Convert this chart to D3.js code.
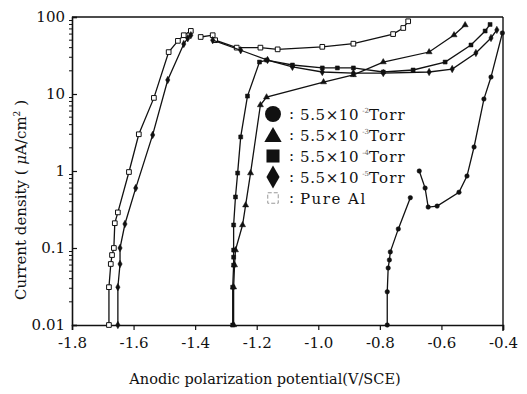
<!DOCTYPE html>
<html>
<head>
<meta charset="utf-8">
<script src="https://cdn.jsdelivr.net/npm/d3@7"></script>
<style>
  body { margin: 0; background: #fff; }
  text { font-family: "DejaVu Serif", "Liberation Serif", serif; fill: #111; }
</style>
</head>
<body>
<div id="chart"></div>
<script>
// axis ticks
var xTickValues = [-1.8, -1.6, -1.4, -1.2, -1.0, -0.8, -0.6, -0.4];
var xTickLabels = ["-1.8", "-1.6", "-1.4", "-1.2", "-1.0", "-0.8", "-0.6", "-0.4"];
var yTickValues = [0.01, 0.1, 1, 10, 100];
var yTickLabels = ["0.01", "0.1", "1", "10", "100"];

// series: [potential (V/SCE), current density (uA/cm2)], null = break in line
var pureAl = [
  [-1.680, 0.010], [-1.680, 0.031], [-1.674, 0.062], [-1.670, 0.081], [-1.664, 0.100],
  [-1.661, 0.21], [-1.651, 0.29], [-1.615, 0.97], [-1.583, 3.0], [-1.534, 8.9],
  [-1.486, 35], [-1.456, 49], [-1.437, 58], [-1.414, 66],
  null,
  [-1.382, 55], [-1.343, 58], [-1.335, 50], [-1.265, 40], [-1.188, 40], [-1.132, 38],
  [-0.987, 41], [-0.886, 45], [-0.757, 60], [-0.724, 72], [-0.708, 88]
];
var seriesDiamond = [
  [-1.651, 0.010], [-1.651, 0.031], [-1.644, 0.062], [-1.644, 0.100], [-1.628, 0.205],
  [-1.593, 0.60], [-1.538, 2.94], [-1.489, 15.2], [-1.437, 44.6], [-1.424, 53], [-1.414, 58],
  null,
  [-1.343, 50], [-1.252, 37], [-1.165, 27.6], [-1.084, 22.5], [-0.987, 19.3], [-0.886, 18.7],
  [-0.789, 18.7], [-0.640, 19.3], [-0.565, 21.1], [-0.488, 34.1], [-0.439, 53.4], [-0.420, 68]
];
var seriesSquare = [
  [-1.278, 0.010], [-1.278, 0.031], [-1.275, 0.060], [-1.275, 0.076], [-1.275, 0.094],
  [-1.275, 0.199], [-1.269, 0.46], [-1.262, 0.94], [-1.252, 2.77], [-1.230, 9.4],
  [-1.191, 26], [-1.168, 27.6], [-1.084, 23.8], [-0.987, 21.8], [-0.938, 21.8], [-0.886, 21.8],
  [-0.789, 19.3], [-0.692, 20.5], [-0.588, 26], [-0.504, 43.3], [-0.458, 65.8], [-0.442, 80]
];
var seriesTriangle = [
  [-1.275, 0.010], [-1.275, 0.031], [-1.272, 0.060], [-1.269, 0.094], [-1.246, 0.199],
  [-1.236, 0.36], [-1.220, 0.94], [-1.188, 7.2], [-1.168, 9.1], [-0.983, 14.3],
  [-0.886, 17.7], [-0.789, 26], [-0.640, 35.1], [-0.559, 58.3], [-0.523, 78.7]
];
var seriesCircle = [
  [-0.776, 0.010], [-0.776, 0.027], [-0.773, 0.055], [-0.769, 0.070], [-0.766, 0.089],
  [-0.740, 0.177], [-0.701, 0.45],
  null,
  [-0.672, 1.0], [-0.653, 0.60], [-0.643, 0.34], [-0.614, 0.35], [-0.543, 0.53],
  [-0.517, 0.86], [-0.494, 2.05], [-0.462, 8.6], [-0.439, 16.6], [-0.402, 62]
];

var legendLabels = ["5.5×10", "5.5×10", "5.5×10", "5.5×10", "Pure Al"];
var legendExponents = ["-2", "-3", "-4", "-5", null];

var width = 527, height = 394;
var margin = { top: 17, right: 24, bottom: 69, left: 72 };
var w = width - margin.left - margin.right,
    h = height - margin.top - margin.bottom;

var svg = d3.select("#chart").append("svg")
    .attr("width", width)
    .attr("height", height);

var g = svg.append("g")
    .attr("transform", "translate(" + margin.left + "," + margin.top + ")");

// scales
var x = d3.scaleLinear().domain([-1.8, -0.4]).range([0, w]);
var y = d3.scaleLog().domain([0.01, 100]).range([h, 0]);

// frame (top and right)
g.append("line").attr("x1", 0).attr("x2", w).attr("y1", 0).attr("y2", 0)
    .attr("stroke", "#111").attr("stroke-width", 1.6);
g.append("line").attr("x1", w).attr("x2", w).attr("y1", 0).attr("y2", h + 6)
    .attr("stroke", "#111").attr("stroke-width", 1.4);

// x axis
var xAxis = d3.axisBottom(x)
    .tickValues(xTickValues)
    .tickSize(5)
    .tickFormat(function(d, i) { return xTickLabels[i]; });

var gx = g.append("g")
    .attr("transform", "translate(0," + h + ")")
    .call(xAxis);
gx.select(".domain").attr("stroke", "#111").attr("stroke-width", 1.6);
gx.selectAll(".tick line").attr("stroke", "#111").attr("stroke-width", 1.2);
gx.selectAll(".tick text")
    .attr("y", 12)
    .style("font-family", "DejaVu Serif")
    .style("font-size", "15px")
    .attr("fill", "#111");

// y axis, major ticks inside
var yAxis = d3.axisLeft(y)
    .tickValues(yTickValues)
    .tickSize(-5)
    .tickPadding(7)
    .tickFormat(function(d, i) { return yTickLabels[i]; });

var gy = g.append("g").call(yAxis);
gy.select(".domain").attr("stroke", "#111").attr("stroke-width", 1.6);
gy.selectAll(".tick line").attr("stroke", "#111").attr("stroke-width", 1.2);
gy.selectAll(".tick text")
    .attr("x", -7)
    .style("font-family", "DejaVu Serif")
    .style("font-size", "15px")
    .attr("fill", "#111");

// minor log ticks on y axis
var minorTicks = [];
[0.01, 0.1, 1, 10].forEach(function(dec) {
  for (var k = 2; k <= 9; k++) minorTicks.push(dec * k);
});
g.append("g").selectAll("line")
    .data(minorTicks)
    .enter().append("line")
    .attr("x1", -3).attr("x2", 0)
    .attr("y1", function(d) { return y(d); })
    .attr("y2", function(d) { return y(d); })
    .attr("stroke", "#111").attr("stroke-width", 1);

// axis titles
svg.append("text")
    .attr("x", 265)
    .attr("y", 384)
    .attr("text-anchor", "middle")
    .style("font-size", "14.5px")
    .text("Anodic polarization potential(V/SCE)");

var yTitle = svg.append("text")
    .attr("transform", "translate(26,200) rotate(-90)")
    .attr("text-anchor", "middle")
    .style("font-size", "15px");
yTitle.append("tspan").text("Current density ( ");
yTitle.append("tspan").style("font-style", "italic").text("μ");
yTitle.append("tspan").text("A/cm");
yTitle.append("tspan").attr("dy", -6).style("font-size", "9px").text("2");
yTitle.append("tspan").attr("dy", 6).text(" )");

// lines
var line = d3.line()
    .defined(function(d) { return d != null; })
    .x(function(d) { return x(d[0]); })
    .y(function(d) { return y(d[1]); });

var allSeries = [
  { data: pureAl, symbol: d3.symbolSquare, open: true },
  { data: seriesDiamond, symbol: d3.symbolDiamond, open: false },
  { data: seriesSquare, symbol: d3.symbolSquare, open: false },
  { data: seriesTriangle, symbol: d3.symbolTriangle, open: false },
  { data: seriesCircle, symbol: d3.symbolCircle, open: false }
];

allSeries.forEach(function(s) {
  g.append("path")
      .datum(s.data)
      .attr("d", line)
      .attr("fill", "none")
      .attr("stroke", "#111")
      .attr("stroke-width", 1.3);

  g.append("g").selectAll("path")
      .data(s.data.filter(function(d) { return d != null; }))
      .enter().append("path")
      .attr("d", d3.symbol().type(s.symbol).size(s.open ? 22 : 16))
      .attr("transform", function(d) { return "translate(" + x(d[0]) + "," + y(d[1]) + ")"; })
      .attr("fill", s.open ? "#fff" : "#111")
      .attr("stroke", "#111")
      .attr("stroke-width", s.open ? 1 : 0.5);
});

// legend
var legendSymbols = [d3.symbolCircle, d3.symbolTriangle, d3.symbolSquare, d3.symbolDiamond, d3.symbolSquare];
var legendSizes = [200, 130, 170, 150, 110];
var legend = svg.append("g").attr("transform", "translate(273,114)");

legendLabels.forEach(function(lab, i) {
  var row = legend.append("g").attr("transform", "translate(0," + (i * 21) + ")");
  var isOpen = i === 4;
  row.append("path")
      .attr("d", d3.symbol().type(legendSymbols[i]).size(legendSizes[i]))
      .attr("transform", i === 1 ? "translate(0,2)" : null)
      .attr("fill", isOpen ? "none" : "#111")
      .attr("stroke", isOpen ? "#999" : "none")
      .attr("stroke-dasharray", isOpen ? "4,2" : null);
  row.append("text")
      .attr("x", 16)
      .attr("y", 5)
      .style("font-size", "15px")
      .text(":");
  var t = row.append("text")
      .attr("x", 27)
      .attr("y", 6)
      .style("font-size", "15px")
      .style("letter-spacing", isOpen ? "1.5px" : "0.6px");
  t.append("tspan").text(lab);
  if (legendExponents[i]) {
    t.append("tspan").attr("dx", 3).attr("dy", -7).style("font-size", "7px").style("letter-spacing", "0px")
        .attr("fill", "#666").text(legendExponents[i]);
    t.append("tspan").attr("dy", 7).style("letter-spacing", "1.2px").text("Torr");
  }
});
</script>
</body>
</html>
